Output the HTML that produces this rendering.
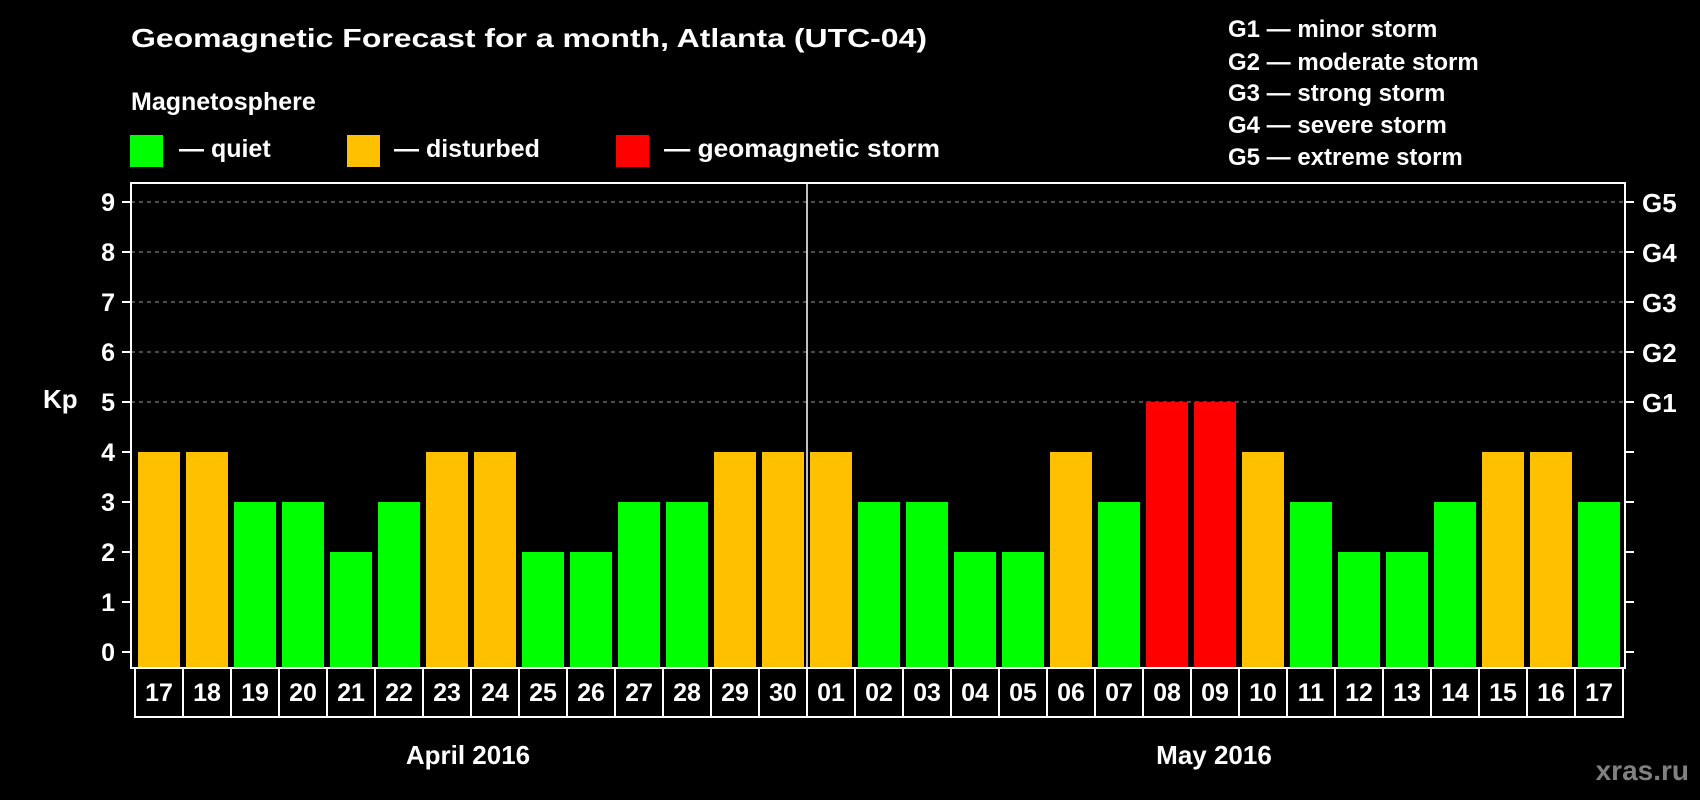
<!DOCTYPE html>
<html><head><meta charset="utf-8"><style>
html,body{margin:0;padding:0;background:#000;}
svg{display:block;font-family:"Liberation Sans",Arial,sans-serif;font-weight:bold;}
</style></head><body>
<svg id="chart" width="1700" height="800" viewBox="0 0 1700 800">
<rect x="0" y="0" width="1700" height="800" fill="#000"/>
<text x="131" y="47" font-size="26" fill="#fff" textLength="796" lengthAdjust="spacingAndGlyphs">Geomagnetic Forecast for a month, Atlanta (UTC-04)</text>
<text x="131" y="110" font-size="25" fill="#fff">Magnetosphere</text>
<rect x="130" y="135" width="33" height="32" fill="#00ff00"/>
<text x="179" y="157" font-size="25" fill="#fff">— quiet</text>
<rect x="347" y="135" width="33" height="32" fill="#ffc000"/>
<text x="394" y="157" font-size="25" fill="#fff">— disturbed</text>
<rect x="616" y="135" width="33" height="32" fill="#ff0000"/>
<text x="664" y="157" font-size="25" fill="#fff" textLength="276" lengthAdjust="spacingAndGlyphs">— geomagnetic storm</text>
<g font-size="24" fill="#fff">
<text x="1228" y="37">G1 — minor storm</text>
<text x="1228" y="70">G2 — moderate storm</text>
<text x="1228" y="101">G3 — strong storm</text>
<text x="1228" y="133">G4 — severe storm</text>
<text x="1228" y="165">G5 — extreme storm</text>
</g>
<text x="43" y="408" font-size="26" fill="#fff">Kp</text>
<g id="plot"></g>
<text x="468" y="764" font-size="26" fill="#fff" text-anchor="middle">April 2016</text>
<text x="1214" y="764" font-size="26" fill="#fff" text-anchor="middle">May 2016</text>
<text x="1689" y="780" font-size="28" fill="#808080" text-anchor="end">xras.ru</text>
</svg>
<script>
const days = ["17","18","19","20","21","22","23","24","25","26","27","28","29","30","01","02","03","04","05","06","07","08","09","10","11","12","13","14","15","16","17"];
const kpValues = [4,4,3,3,2,3,4,4,2,2,3,3,4,4,4,3,3,2,2,4,3,5,5,4,3,2,2,3,4,4,3];
const yTicks = [0,1,2,3,4,5,6,7,8,9];
const gLabels = ["G1","G2","G3","G4","G5"];
const gLevels = [5,6,7,8,9];

const NS = "http://www.w3.org/2000/svg";
const g = document.getElementById('plot');
const L = 131, R = 1625, T = 183, B = 668;
const slot0 = 135, slotW = 48;
const y = v => 652 - v * 50;
const x = i => slot0 + i * slotW;
function mk(tag, attrs, txt) {
  const e = document.createElementNS(NS, tag);
  for (const k in attrs) e.setAttribute(k, attrs[k]);
  if (txt !== undefined) e.textContent = txt;
  g.appendChild(e);
  return e;
}
// grid lines
gLevels.forEach(v => {
  const l = mk('line', {x1: L, x2: R, y1: y(v), y2: y(v), stroke: '#999', 'stroke-width': 1, 'stroke-dasharray': '4,4'});
  
  
});
// bars
kpValues.forEach((v, i) => {
  const c = v >= 5 ? '#ff0000' : (v >= 4 ? '#ffc000' : '#00ff00');
  const r = mk('rect', {x: x(i) + 3, y: y(v), width: 42, height: y(0) - y(v) + 16, fill: c});
  
  
});
// frame
const f = mk('rect', {x: L, y: T, width: R - L, height: B - T, fill: 'none', stroke: '#fff', 'stroke-width': 2});


// month separator
const sep = mk('line', {x1: x(14), x2: x(14), y1: T, y2: B, stroke: '#fff', 'stroke-width': 1.5});


// y ticks
yTicks.forEach(v => {
  const t = mk('line', {x1: 122, x2: L, y1: y(v), y2: y(v), stroke: '#fff', 'stroke-width': 2});
  
  
  const t2 = mk('line', {x1: R, x2: 1634, y1: y(v), y2: y(v), stroke: '#fff', 'stroke-width': 2});
  
  
  const lb = mk('text', {x: 115, y: y(v) + 9, 'font-size': 25, fill: '#fff', 'text-anchor': 'end'}, String(v));
  
  
});
gLabels.forEach((s, i) => {
  const lb = mk('text', {x: 1642, y: y(gLevels[i]) + 10, 'font-size': 26, fill: '#fff'}, s);
  
  
});
// day cells
days.forEach((d, i) => {
  const r = mk('rect', {x: x(i), y: B, width: slotW, height: 49, fill: '#000', stroke: '#fff', 'stroke-width': 2});
  
  
  const t = mk('text', {x: x(i) + slotW / 2, y: 701, 'font-size': 25, fill: '#fff', 'text-anchor': 'middle'}, d);
  
  
});
</script>
</body></html>
